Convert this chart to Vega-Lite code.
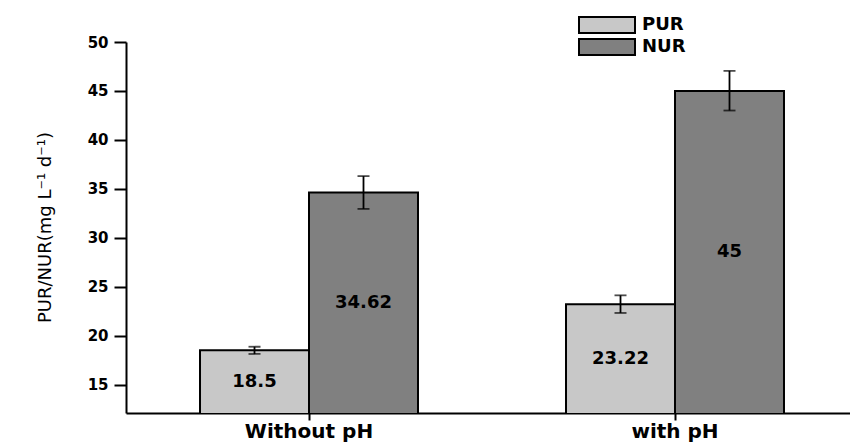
{
  "$schema": "https://vega.github.io/schema/vega-lite/v6.json",
  "width": 724,
  "height": 371,
  "autosize": {"type": "none"},
  "padding": {"left": 126, "top": 42, "right": 0, "bottom": 29},
  "background": "white",
  "config": {"view": {"stroke": null}, "font": "DejaVu Sans"},
  "data": {
    "values": [
      {"cond": "Without pH", "type": "PUR", "value": 18.5, "lo": 18.13, "hi": 18.87, "label": "18.5"},
      {"cond": "Without pH", "type": "NUR", "value": 34.62, "lo": 32.95, "hi": 36.3, "label": "34.62"},
      {"cond": "with pH", "type": "PUR", "value": 23.22, "lo": 22.32, "hi": 24.12, "label": "23.22"},
      {"cond": "with pH", "type": "NUR", "value": 45, "lo": 43.0, "hi": 47.05, "label": "45"}
    ]
  },
  "encoding": {
    "x": {
      "field": "cond", "type": "nominal", "sort": ["Without pH", "with pH"],
      "scale": {"range": [0, 732], "paddingInner": 0, "paddingOuter": 0},
      "axis": {
        "title": null, "labelAngle": 0, "labelFontSize": 20, "labelFontWeight": "bold",
        "labelColor": "black", "labelPadding": 1, "domainColor": "black", "domainWidth": 2,
        "tickColor": "black", "tickWidth": 2, "tickSize": 7, "grid": false
      }
    },
    "xOffset": {
      "field": "type", "type": "nominal", "sort": ["PUR", "NUR"],
      "scale": {"paddingInner": 0, "paddingOuter": 0.679}
    }
  },
  "layer": [
    {
      "mark": {"type": "bar", "stroke": "black", "strokeWidth": 2, "clip": true},
      "encoding": {
        "y": {
          "field": "value", "type": "quantitative",
          "scale": {"domain": [12.1, 50], "nice": false, "zero": false},
          "axis": {
            "values": [15, 20, 25, 30, 35, 40, 45, 50],
            "title": "PUR/NUR(mg L⁻¹ d⁻¹)",
            "titleFontSize": 18, "titleFontWeight": "normal", "titleColor": "black",
            "titleX": -81, "titleY": 185, "titleAngle": -90, "titleAlign": "center", "titleBaseline": "middle",
            "labelFontSize": 15, "labelFontWeight": "bold", "labelColor": "black", "labelPadding": 6,
            "domainColor": "black", "domainWidth": 2, "tickColor": "black", "tickWidth": 2, "tickSize": 12,
            "grid": false
          }
        },
        "fill": {
          "field": "type", "type": "nominal",
          "scale": {"domain": ["PUR", "NUR"], "range": ["#c8c8c8", "#808080"]},
          "legend": {
            "title": null, "orient": "none", "legendX": 472, "legendY": -26,
            "symbolType": "M-3.5,-1H3.5V1H-3.5Z", "symbolSize": 256,
            "symbolStrokeColor": "black", "symbolStrokeWidth": 2, "symbolOpacity": 1,
            "labelFontSize": 18, "labelFontWeight": "bold", "labelColor": "black",
            "labelOffset": 26, "rowPadding": -2, "padding": 0
          }
        }
      }
    },
    {
      "mark": {"type": "rule", "color": "black", "strokeWidth": 1.8},
      "encoding": {
        "y": {"field": "lo", "type": "quantitative"},
        "y2": {"field": "hi"}
      }
    },
    {
      "mark": {"type": "tick", "color": "black", "size": 12, "thickness": 1.8, "orient": "horizontal"},
      "encoding": {"y": {"field": "lo", "type": "quantitative"}}
    },
    {
      "mark": {"type": "tick", "color": "black", "size": 12, "thickness": 1.8, "orient": "horizontal"},
      "encoding": {"y": {"field": "hi", "type": "quantitative"}}
    },
    {
      "transform": [{"calculate": "(datum.value + 12.1) / 2", "as": "mid"}],
      "mark": {"type": "text", "fontWeight": "bold", "fontSize": 18, "color": "black", "baseline": "middle"},
      "encoding": {
        "y": {"field": "mid", "type": "quantitative"},
        "text": {"field": "label"}
      }
    }
  ]
}
